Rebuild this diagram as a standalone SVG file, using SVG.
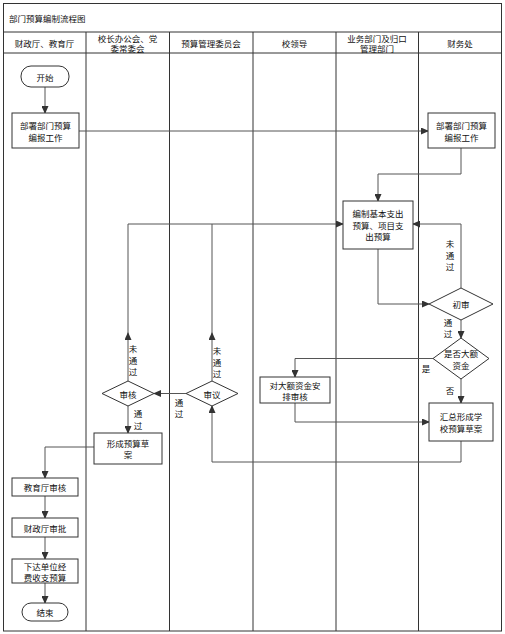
<svg xmlns="http://www.w3.org/2000/svg" width="505" height="634" viewBox="0 0 505 634">
<defs>
<marker id="arr" markerWidth="8" markerHeight="7" refX="7" refY="3.5" orient="auto" markerUnits="userSpaceOnUse">
<path d="M0,0 L8,3.5 L0,7 Z" fill="#333"/>
</marker>
<style>
text{font-family:"Noto Sans CJK SC","Liberation Sans",sans-serif;font-size:8.5px;fill:#111;text-anchor:middle;dominant-baseline:central}
.lane{fill:none;stroke:#333;stroke-width:1}
.node{fill:#fff;stroke:#333;stroke-width:1}
.conn{fill:none;stroke:#555;stroke-width:1;marker-end:url(#arr)}
.plain{fill:none;stroke:#555;stroke-width:1}
.title{text-anchor:start}
</style>
</defs>
<rect x="0" y="0" width="505" height="634" fill="#fff"/>
<g id="frame">
<rect class="lane" x="3.5" y="3.5" width="498" height="627.5" stroke-width="1.5"/>
<line class="lane" x1="3.5" y1="32" x2="501.5" y2="32"/>
<line class="lane" x1="3.5" y1="53" x2="501.5" y2="53"/>
<line class="lane" x1="86" y1="32" x2="86" y2="631"/>
<line class="lane" x1="169.5" y1="32" x2="169.5" y2="631"/>
<line class="lane" x1="253" y1="32" x2="253" y2="631"/>
<line class="lane" x1="336" y1="32" x2="336" y2="631"/>
<line class="lane" x1="418.5" y1="32" x2="418.5" y2="631"/>
<text class="title" x="9" y="18">部门预算编制流程图</text>
<text x="44.5" y="43">财政厅、教育厅</text>
<text x="127.5" y="37.5">校长办公会、党</text>
<text x="127.5" y="48">委常委会</text>
<text x="211" y="43">预算管理委员会</text>
<text x="294.5" y="43">校领导</text>
<text x="377" y="37.5">业务部门及归口</text>
<text x="377" y="48">管理部门</text>
<text x="460" y="43">财务处</text>
</g>
<g id="connectors">
<path class="conn" d="M45,87 V113"/>
<path class="conn" d="M79,131 H428"/>
<path class="conn" d="M461,148 V174 H378 V201"/>
<path class="conn" d="M378,249 V304 H429"/>
<path class="conn" d="M461,288 V224 H413"/>
<path class="conn" d="M461,320 V338"/>
<path class="conn" d="M433,358.5 H295 V377"/>
<path class="conn" d="M461,379 V403"/>
<path class="conn" d="M295,403 V422 H429"/>
<path class="conn" d="M461,441 V462 H212 V406"/>
<path class="conn" d="M212,381 V333"/>
<path class="conn" d="M212,334 V224 H343"/>
<path class="conn" d="M186,393.5 H154"/>
<path class="conn" d="M128,381 V333"/>
<path class="plain" d="M128,334 V224 H212"/>
<path class="conn" d="M128,406 V433"/>
<path class="conn" d="M94,447 H45 V478"/>
<path class="conn" d="M45,496 V518"/>
<path class="conn" d="M45,537 V559"/>
<path class="conn" d="M45,583 V603"/>
<text x="450" y="243">未</text>
<text x="450" y="255">通</text>
<text x="450" y="266">过</text>
<text x="448" y="322">通</text>
<text x="448" y="333">过</text>
<text x="426" y="368">是</text>
<text x="450" y="390">否</text>
<text x="133" y="348">未</text>
<text x="133" y="360">通</text>
<text x="133" y="371">过</text>
<text x="217" y="350">未</text>
<text x="217" y="362">通</text>
<text x="217" y="373">过</text>
<text x="179" y="402">通</text>
<text x="179" y="413">过</text>
<text x="138" y="413">通</text>
<text x="138" y="424.5">过</text>
</g>
<g id="start">
<rect class="node" x="21" y="66" width="48" height="21" rx="10"/>
<text x="45" y="76.5">开始</text>
</g>
<g id="deploy-left">
<rect class="node" x="12" y="113" width="67" height="35"/>
<text x="45.5" y="125">部署部门预算</text>
<text x="45.5" y="137">编报工作</text>
</g>
<g id="deploy-right">
<rect class="node" x="428" y="113" width="67" height="35"/>
<text x="461.5" y="125">部署部门预算</text>
<text x="461.5" y="137">编报工作</text>
</g>
<g id="compile">
<rect class="node" x="343" y="201" width="70" height="48"/>
<text x="378" y="213">编制基本支出</text>
<text x="378" y="224.5">预算、项目支</text>
<text x="378" y="236">出预算</text>
</g>
<g id="prelim">
<polygon class="node" points="429,304 461,288 493,304 461,320"/>
<text x="461" y="304">初审</text>
</g>
<g id="large-fund">
<polygon class="node" points="433,358.5 461,338 489,358.5 461,379"/>
<text x="461" y="353">是否大额</text>
<text x="461" y="365">资金</text>
</g>
<g id="large-review">
<rect class="node" x="260" y="377" width="70" height="26"/>
<text x="295" y="385">对大额资金安</text>
<text x="295" y="396">排审核</text>
</g>
<g id="summary">
<rect class="node" x="429" y="403" width="64" height="38"/>
<text x="461" y="416">汇总形成学</text>
<text x="461" y="428">校预算草案</text>
</g>
<g id="deliberate">
<polygon class="node" points="186,393.5 212,381 238,393.5 212,406"/>
<text x="212" y="393.5">审议</text>
</g>
<g id="review">
<polygon class="node" points="102,393.5 128,381 154,393.5 128,406"/>
<text x="128" y="393.5">审核</text>
</g>
<g id="draft">
<rect class="node" x="94" y="433" width="68" height="31"/>
<text x="128" y="443">形成预算草</text>
<text x="128" y="454">案</text>
</g>
<g id="edu-review">
<rect class="node" x="12" y="478" width="66" height="18"/>
<text x="45" y="487">教育厅审核</text>
</g>
<g id="fin-approve">
<rect class="node" x="12" y="518" width="66" height="19"/>
<text x="45" y="527.5">财政厅审批</text>
</g>
<g id="issue">
<rect class="node" x="12" y="559" width="66" height="24"/>
<text x="45" y="565.5">下达单位经</text>
<text x="45" y="576.5">费收支预算</text>
</g>
<g id="end">
<rect class="node" x="22" y="603" width="46" height="18" rx="9"/>
<text x="45" y="612">结束</text>
</g>
</svg>
